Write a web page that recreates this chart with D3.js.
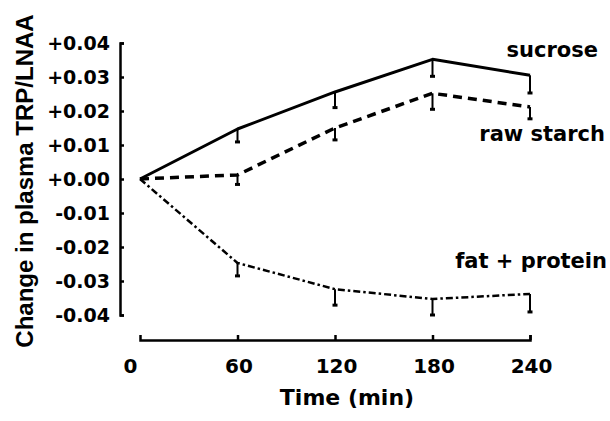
<!DOCTYPE html>
<html>
<head>
<meta charset="utf-8">
<script src="https://cdn.jsdelivr.net/npm/d3@7"></script>
<style>
  html, body { margin: 0; padding: 0; background: #fff; }
  svg { display: block; }
</style>
</head>
<body>
<svg id="chart" width="610" height="421"></svg>
<script>
// Sampling times (min)
const times = [0, 60, 120, 180, 240];

// Mean change in plasma TRP/LNAA for each meal
const sucrose    = [0, 0.0147, 0.0256, 0.0352, 0.0305];
const rawStarch  = [0, 0.0012, 0.0150, 0.0252, 0.0212];
const fatProtein = [0, -0.0247, -0.0324, -0.0353, -0.0338];

// Standard errors (drawn one-sided, below each mean)
const sucroseSem    = [0, 0.0038, 0.0046, 0.0050, 0.0052];
const rawStarchSem  = [0, 0.0028, 0.0035, 0.0047, 0.0035];
const fatProteinSem = [0, 0.0038, 0.0047, 0.0047, 0.0053];

// Axis ticks
const yTicks = [0.04, 0.03, 0.02, 0.01, 0, -0.01, -0.02, -0.03, -0.04];
const xTicks = [0, 60, 120, 180, 240];

const seriesNames = ["sucrose", "raw starch", "fat + protein"];

const WIDE = "'DejaVu Sans', sans-serif";
const NORMAL = "'Liberation Sans', Arial, sans-serif";

const svg = d3.select("#chart");

const x = d3.scaleLinear().domain([0, 240]).range([140, 530]);
const y = d3.scaleLinear().domain([-0.04, 0.04]).range([315, 43]);

const fmtY = v => (v >= 0 ? "+" : "-") + Math.abs(v).toFixed(2);

function styleText(sel, size, family) {
  sel.style("font-family", family)
     .style("font-weight", "bold")
     .style("font-size", size + "px")
     .style("fill", "#000");
}

// Y axis
const yAxis = d3.axisLeft(y)
  .tickValues(yTicks)
  .tickSizeInner(-4)
  .tickSizeOuter(-4)
  .tickPadding(10)
  .tickFormat(fmtY);

const gy = svg.append("g").attr("transform", "translate(120,0)").call(yAxis);
gy.select(".domain").attr("stroke", "#000").attr("stroke-width", 2.5).attr("fill", "none");
gy.selectAll(".tick line").attr("stroke", "#000").attr("stroke-width", 2.5);
styleText(gy.selectAll(".tick text"), 19, WIDE);

// X axis
const xAxis = d3.axisBottom(x)
  .tickValues(xTicks)
  .tickSizeInner(-5)
  .tickSizeOuter(-5)
  .tickPadding(19)
  .tickFormat(d3.format("d"));

const gx = svg.append("g").attr("transform", "translate(0,340)").call(xAxis);
gx.select(".domain").attr("stroke", "#000").attr("stroke-width", 2.5).attr("fill", "none");
gx.selectAll(".tick line").attr("stroke", "#000").attr("stroke-width", 2.5);
styleText(gx.selectAll(".tick text"), 20, WIDE);
gx.selectAll(".tick text").attr("dx", d => d === 0 ? -10 : 1);
gx.selectAll(".tick").filter(d => d === 0).select("line").remove();

// Axis titles
styleText(svg.append("text")
  .attr("x", 347).attr("y", 405)
  .attr("text-anchor", "middle")
  .text("Time (min)"), 22, WIDE);

styleText(svg.append("text")
  .attr("transform", "translate(33,181) rotate(-90)")
  .attr("text-anchor", "middle")
  .text("Change in plasma TRP/LNAA"), 24, NORMAL);

// Series
const series = [
  { name: seriesNames[0], values: sucrose,    sem: sucroseSem,    dash: null,        width: 3,   lx: 598, ly: 57 },
  { name: seriesNames[1], values: rawStarch,  sem: rawStarchSem,  dash: "9,6",       width: 3.5, lx: 605, ly: 141 },
  { name: seriesNames[2], values: fatProtein, sem: fatProteinSem, dash: "7,3,2.5,3", width: 2.5, lx: 607, ly: 268 }
];

const line = d3.line().x((d, i) => x(times[i])).y(d => y(d));

series.forEach(s => {
  svg.append("path")
    .datum(s.values)
    .attr("d", line)
    .attr("fill", "none")
    .attr("stroke", "#000")
    .attr("stroke-width", s.width)
    .attr("stroke-linejoin", "round")
    .attr("stroke-dasharray", s.dash);

  // One-sided error bars
  const pts = s.values.map((v, i) => ({ t: times[i], v, e: s.sem[i] })).filter(p => p.e > 0);
  const g = svg.append("g").attr("stroke", "#000").attr("stroke-width", 2);
  g.selectAll("line.bar").data(pts).join("line")
    .attr("class", "bar")
    .attr("x1", p => x(p.t)).attr("x2", p => x(p.t))
    .attr("y1", p => y(p.v)).attr("y2", p => y(p.v - p.e));
  g.selectAll("line.cap").data(pts).join("line")
    .attr("class", "cap")
    .attr("x1", p => x(p.t) - 2.5).attr("x2", p => x(p.t) + 2.5)
    .attr("y1", p => y(p.v - p.e)).attr("y2", p => y(p.v - p.e))
    .attr("stroke-width", 3);

  styleText(svg.append("text")
    .attr("x", s.lx).attr("y", s.ly)
    .attr("text-anchor", "end")
    .text(s.name), 21, WIDE);
});
</script>
</body>
</html>
